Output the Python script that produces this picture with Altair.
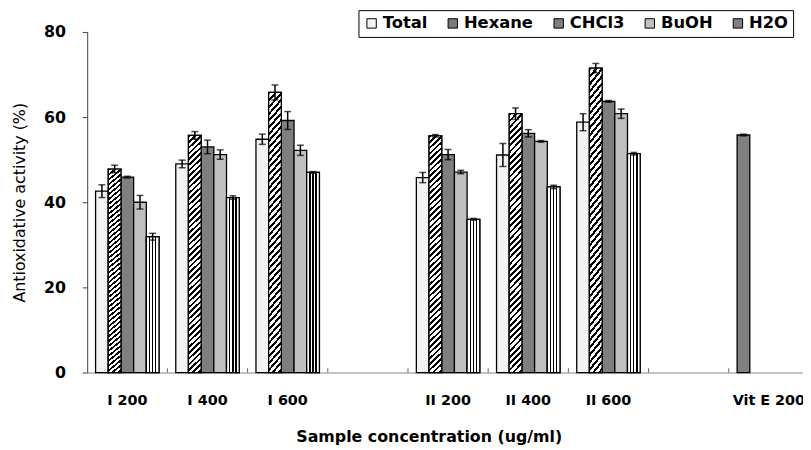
import altair as alt
import pandas as pd

# ---------------- data ----------------
categories = ["I 200", "I 400", "I 600", " ", "II 200", "II 400", "II 600", "  ", "Vit E 200"]
series = ["Total", "Hexane", "CHCl3", "BuOH", "H2O"]
groups = ["I 200", "I 400", "I 600", "II 200", "II 400", "II 600"]

total = [42.6, 49.0, 54.8, 45.8, 51.1, 58.8]
hexane = [47.8, 55.7, 65.8, 55.6, 60.8, 71.5]
chcl3 = [45.9, 53.0, 59.2, 51.2, 56.2, 63.7]
buoh = [40.0, 51.2, 52.2, 47.1, 54.3, 60.8]
h2o = [31.9, 41.1, 47.0, 36.0, 43.6, 51.4]

total_err = [1.5, 0.9, 1.2, 1.2, 2.7, 2.0]
hexane_err = [0.9, 0.9, 1.75, 0.3, 1.35, 1.1]
chcl3_err = [0.2, 1.6, 2.1, 1.2, 0.85, 0.2]
buoh_err = [1.6, 1.1, 1.2, 0.4, 0.2, 1.1]
h2o_err = [0.8, 0.4, 0.2, 0.2, 0.4, 0.3]

vite_label = "Vit E 200"
vite_value = 55.8
vite_err = 0.2

y_ticks = [0, 20, 40, 60, 80]

# ---------------- table ----------------
vals = [total, hexane, chcl3, buoh, h2o]
errs = [total_err, hexane_err, chcl3_err, buoh_err, h2o_err]
rows = []
for gi, g in enumerate(groups):
    for si, s in enumerate(series):
        rows.append({"cat": g, "slot": s, "series": s,
                     "value": vals[si][gi], "err": errs[si][gi]})
rows.append({"cat": vite_label, "slot": "Total", "series": "CHCl3",
             "value": vite_value, "err": vite_err})
df = pd.DataFrame(rows)
df["lo"] = df["value"] - df["err"]
df["hi"] = df["value"] + df["err"]

ticks_df = pd.DataFrame({"cat": categories[1:], "y0": 0, "y1": 1})

# ---------------- styles ----------------
FONT = "DejaVu Sans"
fills = ["#f3f3f3", "#7a7a7a", "#7f7f7f", "#c0c0c0", "#808080"]

# vertical stripes (H2O)
v_stops = [{"offset": 0, "color": "white"}]
for c in [0.26, 0.5, 0.74]:
    v_stops += [{"offset": c - 0.05, "color": "white"},
                {"offset": c - 0.05, "color": "black"},
                {"offset": c + 0.05, "color": "black"},
                {"offset": c + 0.05, "color": "white"}]
v_stops.append({"offset": 1, "color": "white"})
vgrad = {"gradient": "linear", "x1": 0, "y1": 0, "x2": 1, "y2": 0, "stops": v_stops}

# diagonal stripes (Hexane)
k = 19.5
period = 0.00123
d_stops = [{"offset": 0, "color": "white"}]
for i in range(48):
    a = i * period
    b = a + period * 0.45
    d_stops += [{"offset": a, "color": "white"},
                {"offset": a, "color": "black"},
                {"offset": b, "color": "black"},
                {"offset": b, "color": "white"}]
dgrad = {"gradient": "linear", "x1": 0, "y1": 0, "x2": 1, "y2": k, "stops": d_stops}

x_enc = alt.X("cat:N", sort=categories,
              scale=alt.Scale(domain=categories, paddingInner=0, paddingOuter=0),
              axis=alt.Axis(title="Sample concentration (ug/ml)", ticks=False,
                            labelAngle=0, labelFont=FONT, labelFontWeight="bold",
                            labelFontSize=14.5, labelColor="black", labelPadding=21,
                            domainColor="#888888", domainWidth=1,
                            titleFont=FONT, titleFontWeight="bold", titleFontSize=16,
                            titleColor="black", titleX=345, titleY=65,
                            titleBaseline="middle", titleAlign="center"))
xo_enc = alt.XOffset("slot:N", sort=series,
                     scale=alt.Scale(domain=series, paddingInner=0, paddingOuter=0.66))
y_enc = alt.Y("value:Q",
              scale=alt.Scale(domain=[0, 80], nice=False),
              axis=alt.Axis(title="Antioxidative activity (%)", values=y_ticks,
                            grid=False, tickSize=5, tickColor="#444444",
                            domainColor="#444444", labelFont=FONT,
                            labelFontWeight="bold", labelFontSize=16,
                            labelColor="black", labelPadding=17,
                            titleFont=FONT, titleFontWeight="normal",
                            titleFontSize=16, titleColor="black",
                            titleX=-68, titleY=172, titleAngle=-90,
                            titleBaseline="middle", titleAlign="center"))

base = alt.Chart(df)

bars = base.mark_bar(stroke="black", strokeWidth=1.3).encode(
    x=x_enc, xOffset=xo_enc, y=y_enc,
    color=alt.Color("series:N", sort=series,
                    scale=alt.Scale(domain=series, range=fills),
                    legend=alt.Legend(title=None, orient="none", legendX=274,
                                      legendY=-22, direction="horizontal",
                                      strokeColor="black", fillColor="white",
                                      padding=5, columnPadding=17,
                                      labelFont=FONT, labelFontWeight="bold",
                                      labelFontSize=16.5, labelColor="black",
                                      labelOffset=3, symbolType="square",
                                      symbolSize=90, symbolStrokeColor="black",
                                      symbolStrokeWidth=1, symbolOpacity=1)),
)

h2o_bars = base.transform_filter(alt.datum.series == "H2O").mark_bar(
    stroke="black", strokeWidth=1.3).encode(
    x=alt.X("cat:N", sort=categories), xOffset=alt.XOffset("slot:N", sort=series),
    y="value:Q", fill=alt.value(vgrad))

hex_bars = base.transform_filter(alt.datum.series == "Hexane").mark_bar(
    stroke="black", strokeWidth=1.3).encode(
    x=alt.X("cat:N", sort=categories), xOffset=alt.XOffset("slot:N", sort=series),
    y="value:Q", fill=alt.value(dgrad))

err_rule = base.mark_rule(color="black", strokeWidth=1.5).encode(
    x=alt.X("cat:N", sort=categories), xOffset=alt.XOffset("slot:N", sort=series),
    y="lo:Q", y2="hi:Q")

cap_lo = base.mark_tick(color="black", size=7, thickness=1.5).encode(
    x=alt.X("cat:N", sort=categories), xOffset=alt.XOffset("slot:N", sort=series),
    y="lo:Q")
cap_hi = base.mark_tick(color="black", size=7, thickness=1.5).encode(
    x=alt.X("cat:N", sort=categories), xOffset=alt.XOffset("slot:N", sort=series),
    y="hi:Q")

xticks = alt.Chart(ticks_df).mark_rule(color="#666666", strokeWidth=1).encode(
    x=alt.X("cat:N", sort=categories, bandPosition=0),
    y="y0:Q", y2="y1:Q")

chart = alt.layer(bars, hex_bars, h2o_bars, err_rule, cap_lo, cap_hi, xticks).properties(
    width=729, height=344,
    padding={"left": 80, "top": 22, "right": -6, "bottom": 72},
    autosize=alt.AutoSizeParams(type="none"),
    background="white",
).configure_view(stroke=None)

chart.save("out.html", embed_options={"renderer": "svg", "actions": False})
